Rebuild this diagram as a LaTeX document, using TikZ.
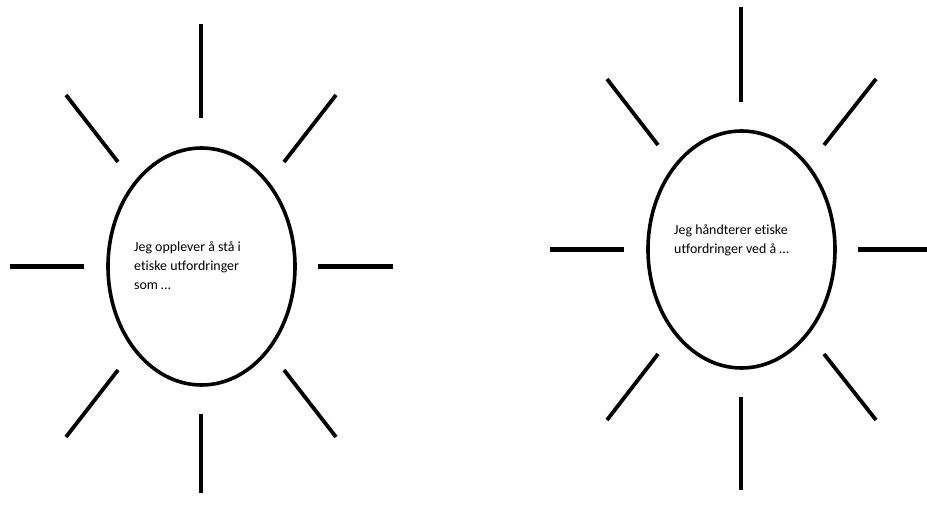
\documentclass[tikz,border=0pt]{standalone}
\usepackage{fontspec}
\setmainfont[Ligatures=NoCommon]{Carlito}
\usetikzlibrary{shapes.geometric}
\begin{document}
\begin{tikzpicture}[x=1pt,y=-1pt,
  ray/.style={line width=3.8pt},
  hray/.style={line width=5pt},
  sun/.style={draw,ellipse,line width=3.6pt,minimum width=187pt,minimum height=237pt,inner sep=0pt},
  txt/.style={anchor=north west,inner sep=0pt,align=left,font=\fontsize{13.9}{19}\selectfont}]
\useasboundingbox (0,0) rectangle (927,506);
% left sun
\node[sun] (e1) at (201.5,266.5) {};
\node[txt] (t1) at (134,241) {Jeg opplever å stå i\\etiske utfordringer\\som …};
\draw[ray] (201,24) -- (201,118);
\draw[ray] (201,414) -- (201,493);
\draw[hray] (10,266) -- (84,266);
\draw[hray] (318,266) -- (393,266);
\draw[ray] (66,95) -- (118,162);
\draw[ray] (336,95) -- (284,162);
\draw[ray] (118,370) -- (66,437);
\draw[ray] (284,370) -- (336,437);
% right sun
\node[sun] (e2) at (741.5,249.5) {};
\node[txt] (t2) at (674,224) {Jeg håndterer etiske\\utfordringer ved å …};
\draw[ray] (741,7) -- (741,102);
\draw[ray] (741,397) -- (741,490);
\draw[hray] (550,249) -- (624,249);
\draw[hray] (858,249) -- (927,249);
\draw[ray] (607,79) -- (658,145);
\draw[ray] (876,79) -- (824,145);
\draw[ray] (658,354) -- (607,420);
\draw[ray] (824,354) -- (876,420);
\end{tikzpicture}
\end{document}
